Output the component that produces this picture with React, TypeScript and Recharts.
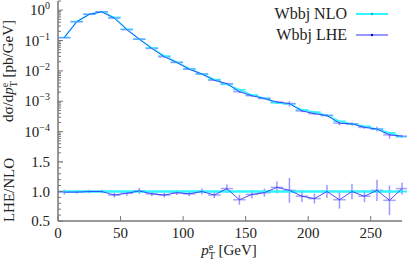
import React from "react";
import { ComposedChart, Scatter, XAxis, YAxis, ErrorBar, Legend } from "recharts";

// bin centres of the 10 GeV p_T^e histogram
const binCenters = [
  5, 15, 25, 35, 45, 55, 65, 75, 85, 95, 105, 115, 125, 135, 145, 155, 165, 175,
  185, 195, 205, 215, 225, 235, 245, 255, 265, 275,
];
const nloXsec = [
  0.125, 0.42, 0.73, 0.88, 0.58, 0.235, 0.11, 0.057, 0.031, 0.0193, 0.0118, 0.0079,
  0.0052, 0.0036, 0.0024, 0.0016, 0.00126, 0.00088, 0.00082, 0.00052, 0.00044,
  0.00034, 0.00022, 0.00018, 0.00015, 0.00012, 0.000092, 0.000068,
];
const lheXsec = [
  0.124, 0.416, 0.73, 0.88, 0.545, 0.228, 0.111, 0.0547, 0.0291, 0.0189, 0.0113,
  0.0079, 0.0049, 0.0038, 0.00206, 0.00152, 0.00123, 0.00094, 0.00084, 0.00048,
  0.00039, 0.00034, 0.00019, 0.00018, 0.000138, 0.000122, 0.000078, 0.000071,
];
const lheRatio = [
  0.99, 0.99, 1.0, 1.0, 0.94, 0.97, 1.01, 0.96, 0.94, 0.98, 0.96, 1.0, 0.94, 1.05,
  0.86, 0.95, 0.98, 1.07, 1.02, 0.92, 0.88, 1.0, 0.86, 1.0, 0.92, 1.02, 0.85, 1.05,
];
const lheRatioErr = [
  0.04, 0.03, 0.03, 0.03, 0.04, 0.04, 0.05, 0.04, 0.04, 0.04, 0.04, 0.05, 0.05, 0.07,
  0.085, 0.07, 0.07, 0.1, 0.21, 0.1, 0.085, 0.11, 0.15, 0.13, 0.1, 0.18, 0.25, 0.1,
];
const binHalfWidth = 5;

const xTicks = [0, 50, 100, 150, 200, 250];
const logLabelTicks = [1e-4, 1e-3, 1e-2, 1e-1, 1];
const ratioTicks = [0.5, 0.6, 0.7, 0.8, 0.9, 1.0, 1.1, 1.2, 1.3, 1.4, 1.5];
const ratioLabelTicks = [0.5, 1.0, 1.5];
const seriesNames = ["Wbbj NLO", "Wbbj LHE"];

const logTicks: number[] = [];
for (let e = -5; e <= 0; e++) {
  for (let k = 1; k <= 9; k++) {
    const v = k * Math.pow(10, e);
    if (v <= 2) logTicks.push(v);
  }
}

const topRowsNlo = binCenters.map((x, i) => ({ x, y: nloXsec[i], xErr: binHalfWidth }));
const topRowsLhe = binCenters.map((x, i) => ({
  x,
  y: lheXsec[i],
  xErr: binHalfWidth,
  yErr: lheXsec[i] * lheRatioErr[i],
}));
const ratioRowsNlo = binCenters.map((x) => ({ x, y: 1, xErr: binHalfWidth }));
const ratioRowsLhe = binCenters.map((x, i) => ({
  x,
  y: lheRatio[i],
  xErr: binHalfWidth,
  yErr: lheRatioErr[i],
}));

const W = 407;
const frame = "#777777";
const ink = "#222222";
const serif = { fontFamily: "Liberation Serif, DejaVu Serif, serif" };
const nloColor = "#2ef5ff";
const lheColor = "#3030ff";
const lheBar = "#8080ff";

const isLabel = (v: number, list: number[]) => list.some((t) => Math.abs(t - v) / t < 1e-6);

const LeftLogTick = (p: any) => {
  const v = p.payload.value;
  const major = Math.abs(Math.log10(v) - Math.round(Math.log10(v))) < 1e-6;
  const exp = Math.round(Math.log10(v));
  return (
    <g>
      <line x1={p.x} x2={p.x + (major ? 5 : 3)} y1={p.y} y2={p.y} stroke={frame} />
      {isLabel(v, logLabelTicks) && (
        <text x={p.x - 8} y={p.y + 5} textAnchor="end" style={serif} fontSize={15} fill={ink}>
          10
          <tspan dy={-6} fontSize={10}>
            {exp === 0 ? "0" : "\u2212" + -exp}
          </tspan>
        </text>
      )}
    </g>
  );
};

const RightLogTick = (p: any) => {
  const v = p.payload.value;
  const major = Math.abs(Math.log10(v) - Math.round(Math.log10(v))) < 1e-6;
  return <line x1={p.x} x2={p.x - (major ? 5 : 3)} y1={p.y} y2={p.y} stroke={frame} />;
};

const LeftRatioTick = (p: any) => {
  const v = p.payload.value;
  const major = isLabel(v, ratioLabelTicks);
  return (
    <g>
      <line x1={p.x} x2={p.x + (major ? 5 : 3)} y1={p.y} y2={p.y} stroke={frame} />
      {major && (
        <text x={p.x - 8} y={p.y + 5} textAnchor="end" style={serif} fontSize={15} fill={ink}>
          {v.toFixed(1)}
        </text>
      )}
    </g>
  );
};

const RightRatioTick = (p: any) => {
  const major = isLabel(p.payload.value, ratioLabelTicks);
  return <line x1={p.x} x2={p.x - (major ? 5 : 3)} y1={p.y} y2={p.y} stroke={frame} />;
};

const XTickUp = (p: any) => <line x1={p.x} x2={p.x} y1={p.y} y2={p.y - 5} stroke={frame} />;
const XTickDown = (p: any) => <line x1={p.x} x2={p.x} y1={p.y} y2={p.y + 5} stroke={frame} />;
const XTickLabelled = (p: any) => (
  <g>
    <line x1={p.x} x2={p.x} y1={p.y} y2={p.y - 5} stroke={frame} />
    <text x={p.x} y={p.y + 17} textAnchor="middle" style={serif} fontSize={15} fill={ink}>
      {p.payload.value}
    </text>
  </g>
);

const LegendBox = () => (
  <svg width={140} height={46}>
    {seriesNames.map((name, i) => {
      const cy = 12 + i * 21;
      const c = i === 0 ? nloColor : lheColor;
      return (
        <g key={name}>
          <text x={87} y={cy + 5} textAnchor="end" style={serif} fontSize={16} fill={ink}>
            {name}
          </text>
          <line x1={96} x2={128} y1={cy} y2={cy} stroke={c} strokeWidth={i === 0 ? 2 : 1} />
          <circle cx={112} cy={cy} r={1.2} fill={i === 0 ? "#00b8c8" : "#0000cc"} />
        </g>
      );
    })}
  </svg>
);

const axisLine = { stroke: frame, strokeWidth: 1.5 };
const common = { tickSize: 0, tickMargin: 0, tickLine: false, interval: 0 as const, axisLine };
const ratioPad = 8;

export default function App() {
  return (
    <div style={{ position: "absolute", left: 0, top: 0, width: W, height: 261, background: "#fff" }}>
      <div style={{ position: "absolute", left: 0, top: 0 }}>
        <ComposedChart width={W} height={162} margin={{ top: 1, right: 5, bottom: 0, left: 0 }}>
          <XAxis xAxisId="b" dataKey="x" type="number" domain={[0, 275]} ticks={xTicks}
            allowDataOverflow height={0} {...common} tick={XTickUp} />
          <XAxis xAxisId="t" orientation="top" dataKey="x" type="number" domain={[0, 275]}
            ticks={xTicks} allowDataOverflow height={0} {...common} tick={XTickDown} />
          <YAxis yAxisId="l" scale="log" type="number" domain={[1e-5, 2]} ticks={logTicks}
            allowDataOverflow width={58} {...common} tick={LeftLogTick} />
          <YAxis yAxisId="r" orientation="right" scale="log" type="number" domain={[1e-5, 2]}
            ticks={logTicks} allowDataOverflow width={0} {...common} tick={RightLogTick} />
          <Legend layout="vertical" align="center" verticalAlign="middle"
            wrapperStyle={{ left: 260, top: 2, width: 140, height: 46 }} content={LegendBox} />
          <Scatter name={seriesNames[0]} data={topRowsNlo} dataKey="y" xAxisId="b" yAxisId="l"
            line={{ stroke: nloColor, strokeWidth: 1.5 }} lineType="joint" shape={() => null}
            isAnimationActive={false}>
            <ErrorBar dataKey="xErr" direction="x" width={0} stroke={nloColor} strokeWidth={1.5} />
          </Scatter>
          <Scatter name={seriesNames[1]} data={topRowsLhe} dataKey="y" xAxisId="b" yAxisId="l"
            line={{ stroke: lheColor, strokeWidth: 1, strokeOpacity: 0.85 }} lineType="joint"
            shape={() => null} isAnimationActive={false}>
            <ErrorBar dataKey="xErr" direction="x" width={0} stroke={lheBar} strokeWidth={1.5} strokeOpacity={0.7} />
            <ErrorBar dataKey="yErr" direction="y" width={0} stroke={lheBar} strokeWidth={1.5} strokeOpacity={0.8} />
          </Scatter>
        </ComposedChart>
      </div>
      <div style={{ position: "absolute", left: 0, top: 162 - ratioPad }}>
        <ComposedChart width={W} height={99 + ratioPad} margin={{ top: ratioPad, right: 5, bottom: 0, left: 0 }}>
          <XAxis xAxisId="b" dataKey="x" type="number" domain={[0, 275]} ticks={xTicks}
            allowDataOverflow height={40} {...common} tick={XTickLabelled} />
          <XAxis xAxisId="t" orientation="top" dataKey="x" type="number" domain={[0, 275]}
            ticks={xTicks} allowDataOverflow height={0} {...common} tick={XTickDown} />
          <YAxis yAxisId="l" type="number" domain={[0.5, 1.5]} ticks={ratioTicks}
            allowDataOverflow width={58} {...common} tick={LeftRatioTick} />
          <YAxis yAxisId="r" orientation="right" type="number" domain={[0.5, 1.5]}
            ticks={ratioTicks} allowDataOverflow width={0} {...common} tick={RightRatioTick} />
          <Scatter data={ratioRowsNlo} dataKey="y" xAxisId="b" yAxisId="l"
            line={{ stroke: nloColor, strokeWidth: 2 }} lineType="joint" shape={() => null}
            isAnimationActive={false}>
            <ErrorBar dataKey="xErr" direction="x" width={0} stroke={nloColor} strokeWidth={2} />
          </Scatter>
          <Scatter data={ratioRowsLhe} dataKey="y" xAxisId="b" yAxisId="l"
            line={{ stroke: lheColor, strokeWidth: 1, strokeOpacity: 0.85 }} lineType="joint"
            shape={() => null} isAnimationActive={false}>
            <ErrorBar dataKey="xErr" direction="x" width={0} stroke={lheBar} strokeWidth={1.5} strokeOpacity={0.7} />
            <ErrorBar dataKey="yErr" direction="y" width={0} stroke={lheBar} strokeWidth={1.5} strokeOpacity={0.8} />
          </Scatter>
        </ComposedChart>
      </div>
      <svg width={W} height={261} style={{ position: "absolute", left: 0, top: 0, pointerEvents: "none" }}>
        <text transform="translate(13,71) rotate(-90)" textAnchor="middle" style={serif} fontSize={15} fill={ink}>
          dσ/d<tspan fontStyle="italic">p</tspan>
          <tspan dy={-5} fontSize={10}>e</tspan>
          <tspan dx={-4.5} dy={9} fontSize={10}>T</tspan>
          <tspan dy={-4}> [pb/GeV]</tspan>
        </text>
        <text transform="translate(14,190) rotate(-90)" textAnchor="middle" style={serif} fontSize={15} fill={ink}>
          LHE/NLO
        </text>
        <text x={229} y={255} textAnchor="middle" style={serif} fontSize={15} fill={ink}>
          <tspan fontStyle="italic">p</tspan>
          <tspan dy={-5} fontSize={10}>e</tspan>
          <tspan dx={-4.5} dy={9} fontSize={10}>T</tspan>
          <tspan dy={-4}> [GeV]</tspan>
        </text>
      </svg>
    </div>
  );
}
